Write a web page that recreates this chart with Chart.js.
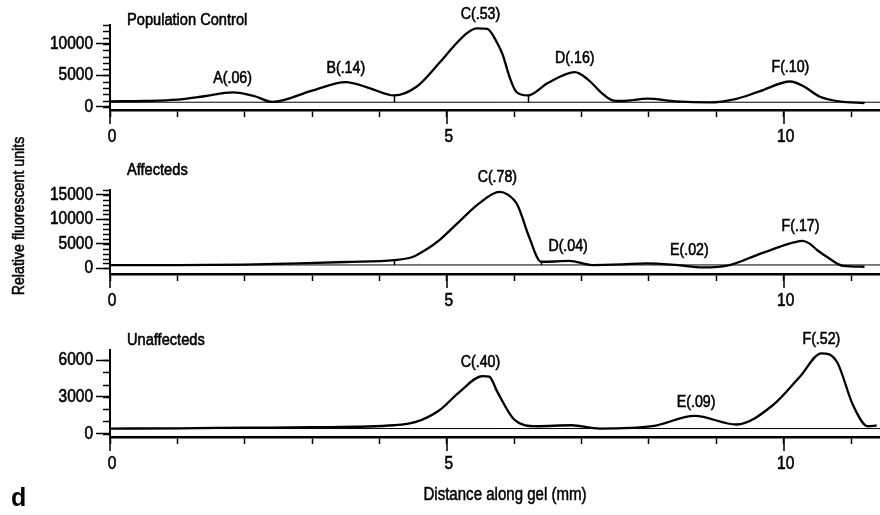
<!DOCTYPE html>
<html>
<head>
<meta charset="utf-8">
<script src="https://cdn.jsdelivr.net/npm/chart.js@4.4.1/dist/chart.umd.min.js"></script>
<style>
    html, body { margin: 0; padding: 0; background: #fff; }
    #wrap { position: relative; width: 880px; height: 515px; overflow: hidden; color: #000;
            font-family: 'Liberation Sans', Arial, sans-serif; }
    #wrap canvas { position: absolute; left: 0; top: 0; }
    .txt { position: absolute; white-space: nowrap; line-height: 1; -webkit-text-stroke: 0.5px #000; }
    #ytitle { left: 18px; top: 216px; font-size: 16.5px; transform: translate(-50%, -50%) rotate(-90deg) scaleX(0.86); }
    #xtitle { left: 505px; top: 495px; font-size: 17.5px; transform: translate(-50%, -50%) scaleX(0.86); }
    #letra  { left: 11px; top: 497px; font-weight: bold; font-size: 25px; transform: translateY(-50%); -webkit-text-stroke: 0; }
</style>
</head>
<body>
<div id="wrap">
    <canvas id="c-pc" width="880" height="515"></canvas>
    <canvas id="c-af" width="880" height="515"></canvas>
    <canvas id="c-un" width="880" height="515"></canvas>
    <div class="txt" id="ytitle">Relative fluorescent units</div>
    <div class="txt" id="xtitle">Distance along gel (mm)</div>
    <div class="txt" id="letra">d</div>
</div>
<script>
// ===== DADOS =====
// Population Control
const pcX = [0, 0.5, 1.0, 1.4, 1.82, 2.15, 2.41, 3.0, 3.5, 3.85, 4.22, 4.55, 4.89, 5.1, 5.3, 5.44, 5.6, 5.75, 5.83, 5.93, 6.03, 6.2, 6.5, 6.9, 7.1, 7.3, 7.45, 7.6, 7.98, 8.4, 8.9, 9.3, 9.64, 10.1, 10.3, 10.53, 10.83, 11.2];
const pcY = [900, 950, 1150, 1700, 2300, 1700, 800, 2600, 3950, 3000, 1830, 3200, 7000, 9600, 11700, 12480, 12400, 10100, 8260, 4790, 2420, 1830, 3790, 5530, 4310, 2210, 1100, 950, 1310, 900, 730, 1300, 2460, 4040, 3250, 1670, 880, 630];
const pcPicos  = ['A(.06)', 'B(.14)', 'C(.53)', 'D(.16)', 'F(.10)'];
const pcPicoX  = [1.82, 3.5, 5.5, 6.9, 10.1];
const pcCortes = [4.22, 6.2];
const pcBase   = 750;
const pcYTicks = [0, 5000, 10000];

// Affecteds
const afX = [0, 1.0, 2.0, 2.8, 3.5, 4.22, 4.5, 4.7, 4.89, 5.18, 5.48, 5.78, 5.9, 6.05, 6.22, 6.4, 6.6, 6.82, 7.16, 7.6, 7.96, 8.4, 8.8, 9.2, 9.6, 9.94, 10.15, 10.28, 10.38, 10.5, 10.64, 10.88, 11.2];
const afY = [670, 670, 780, 1020, 1300, 1690, 2370, 3900, 5770, 9500, 13260, 15630, 15100, 12900, 6450, 1350, 1400, 1550, 670, 800, 1020, 700, 200, 670, 2710, 4400, 5300, 5630, 5100, 3700, 2370, 530, 330];
const afPicos  = ['C(.78)', 'D(.04)', 'E(.02)', 'F(.17)'];
const afPicoX  = [5.75, 6.8, 8.6, 10.25];
const afCortes = [4.22, 6.4];
const afBase   = 700;
const afYTicks = [0, 5000, 10000, 15000];

// Unaffecteds
const unX = [0, 1.0, 2.0, 3.0, 4.22, 4.54, 4.89, 5.19, 5.53, 5.63, 5.75, 6.0, 6.33, 6.85, 7.27, 8.05, 8.68, 9.3, 9.84, 10.24, 10.56, 10.79, 11.03, 11.25, 11.38];
const unY = [410, 430, 480, 520, 680, 950, 1910, 3410, 4700, 4650, 3410, 1150, 600, 680, 410, 600, 1440, 740, 2320, 4640, 6560, 5870, 2320, 600, 660];
const unPicos  = ['C(.40)', 'E(.09)', 'F(.52)'];
const unPicoX  = [5.5, 8.7, 10.56];
const unCortes = [];
const unBase   = 410;
const unYTicks = [0, 3000, 6000];

// eixo x (mm)
const xRotulos = [0, 5, 10];
const X_MAX    = 11.43;

// ===== ESTILO =====
const FONTE    = "'Liberation Sans', Arial, sans-serif";
const ESTREITO = 0.86;   // aperto horizontal pra imitar Helvetica Condensed

function textoEstreito(ctx, t, x, y, align) {
    ctx.save();
    ctx.translate(x, y);
    ctx.scale(ESTREITO, 1);
    ctx.textAlign = align;
    ctx.lineWidth = 0.6;
    ctx.strokeText(t, 0, 0);
    ctx.fillText(t, 0, 0);
    ctx.restore();
}

// ===== PLUGIN: ticks menores, rotulos, titulos, picos =====
const decor = {
    id: 'decor',
    afterDraw(chart, args, o) {
        const { ctx, chartArea: a, scales: { x, y } } = chart;
        ctx.save();
        ctx.strokeStyle = '#000';
        ctx.fillStyle = '#000';
        ctx.lineWidth = 1.5;
        ctx.beginPath();
        for (let v = 0; v <= y.max; v += o.menor) {
            const py = Math.round(y.getPixelForValue(v)) + 0.5;
            ctx.moveTo(a.left - 7, py);
            ctx.lineTo(a.left, py);
        }
        xRotulos.forEach(v => {
            const px = Math.round(x.getPixelForValue(v));
            ctx.moveTo(px, a.bottom);
            ctx.lineTo(px, a.bottom + 14);
        });
        o.cortes.forEach(d => {
            const i = o.xs.indexOf(d);
            const px = Math.round(x.getPixelForValue(d)) + 0.5;
            ctx.moveTo(px, y.getPixelForValue(o.ys[i]));
            ctx.lineTo(px, y.getPixelForValue(o.base));
        });
        ctx.stroke();

        // rotulos dos eixos
        ctx.font = `18px ${FONTE}`;
        ctx.textBaseline = 'middle';
        y.ticks.forEach(t => textoEstreito(ctx, String(t.value), a.left - 17, y.getPixelForValue(t.value), 'right'));
        xRotulos.forEach(v => textoEstreito(ctx, String(v), x.getPixelForValue(v) + 2, a.bottom + 27, 'center'));

        // titulo do painel
        ctx.font = `17px ${FONTE}`;
        ctx.textBaseline = 'alphabetic';
        textoEstreito(ctx, o.titulo, a.left + 17, o.tituloY, 'left');

        // picos
        ctx.font = `16.5px ${FONTE}`;
        ctx.textBaseline = 'middle';
        o.picos.forEach((t, k) => {
            const cx = o.picoX[k];
            let topo = 0;
            o.xs.forEach((xv, i) => { if (Math.abs(xv - cx) <= 0.3) topo = Math.max(topo, o.ys[i]); });
            textoEstreito(ctx, t, x.getPixelForValue(cx), y.getPixelForValue(topo) - 14, 'center');
        });
        ctx.restore();
    }
};

// ===== PAINEL =====
function criarPainel(id, cfg) {
    return new Chart(document.getElementById(id), {
        type: 'line',
        data: {
            datasets: [
                {
                    data: cfg.xs.map((xv, i) => ({ x: xv, y: cfg.ys[i] })),
                    borderColor: '#000',
                    borderWidth: 2.3,
                    pointRadius: 0,
                    cubicInterpolationMode: 'monotone',
                },
                {
                    data: [{ x: 0, y: cfg.base }, { x: X_MAX, y: cfg.base }],
                    borderColor: '#000',
                    borderWidth: 1,
                    pointRadius: 0,
                }
            ]
        },
        options: {
            responsive: false,
            animation: false,
            devicePixelRatio: 1,
            layout: { padding: { top: cfg.topo, bottom: 515 - cfg.fundo - 30, left: 0, right: 0 } },
            plugins: {
                legend: { display: false },
                tooltip: { enabled: false },
                decor: {
                    titulo: cfg.titulo, tituloY: cfg.tituloY, menor: 1000,
                    xs: cfg.xs, ys: cfg.ys, base: cfg.base,
                    picos: cfg.picos, picoX: cfg.picoX, cortes: cfg.cortes
                }
            },
            scales: {
                x: {
                    type: 'linear', min: 0, max: X_MAX,
                    afterFit: s => { s.height = 30; },
                    border: { color: '#000', width: 2.5 },
                    grid: { drawOnChartArea: false, color: '#000', tickLength: 7, tickWidth: 1.5 },
                    ticks: { display: false, stepSize: 1, includeBounds: false, autoSkip: false }
                },
                y: {
                    type: 'linear', min: cfg.min, max: cfg.max,
                    afterFit: s => { s.width = 110; },
                    afterBuildTicks: s => { s.ticks = cfg.yTicks.map(v => ({ value: v })); },
                    border: { color: '#000', width: 2 },
                    grid: { drawOnChartArea: false, color: '#000', tickLength: 14, tickWidth: 1.5 },
                    ticks: { display: false }
                }
            }
        },
        plugins: [decor]
    });
}

criarPainel('c-pc', { xs: pcX, ys: pcY, picos: pcPicos, picoX: pcPicoX, cortes: pcCortes, base: pcBase, yTicks: pcYTicks,
    titulo: 'Population Control', tituloY: 25, topo: 25, fundo: 110, min: -480, max: 13000 });
criarPainel('c-af', { xs: afX, ys: afY, picos: afPicos, picoX: afPicoX, cortes: afCortes, base: afBase, yTicks: afYTicks,
    titulo: 'Affecteds', tituloY: 175, topo: 190, fundo: 274, min: -1150, max: 16000 });
criarPainel('c-un', { xs: unX, ys: unY, picos: unPicos, picoX: unPicoX, cortes: unCortes, base: unBase, yTicks: unYTicks,
    titulo: 'Unaffecteds', tituloY: 345, topo: 350, fundo: 437, min: -280, max: 6830 });
</script>
</body>
</html>
